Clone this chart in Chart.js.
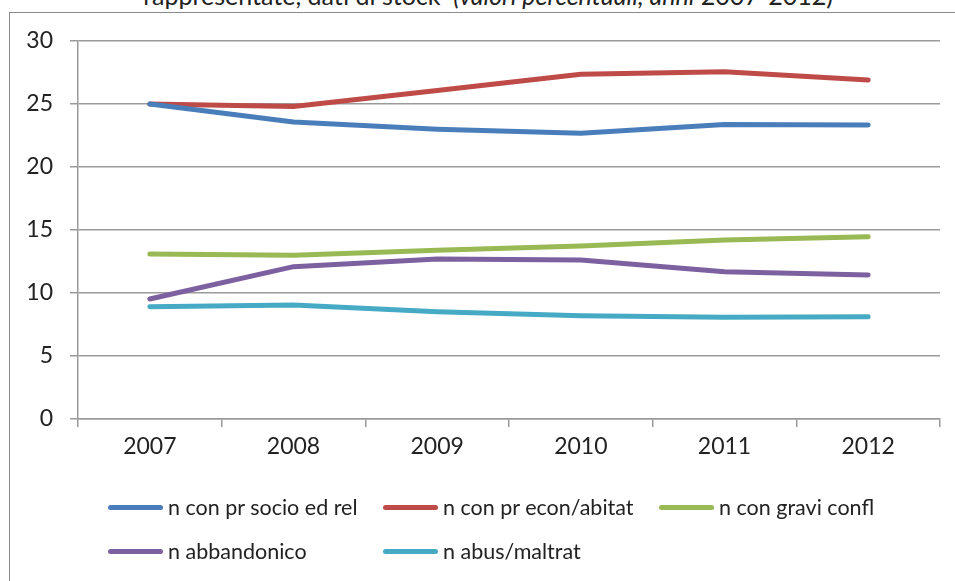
<!DOCTYPE html>
<html>
<head>
<meta charset="utf-8">
<script src="https://cdn.jsdelivr.net/npm/chart.js@4/dist/chart.umd.min.js"></script>
<style>
  html, body { margin: 0; padding: 0; background: #fff; }
  #wrap { position: relative; width: 955px; height: 581px; overflow: hidden; font-family: Lato, "Open Sans", sans-serif; color: #222; }
  #box { position: absolute; left: 9px; top: 12px; width: 960px; height: 600px; border: 1px solid #8a8a8a; box-sizing: border-box; }
  #c { position: absolute; left: 0; top: 0; }
  #title { position: absolute; left: 0; width: 976px; top: -20px; text-align: center; font-size: 25px; line-height: 30px; white-space: pre; color: #222; }
  .lg { position: absolute; font-size: 21.5px; white-space: pre; line-height: 26px; }
  .lg span.s { position: absolute; left: 0; top: 11px; width: 55px; height: 5px; border-radius: 3px; }
  .lg span.t { position: absolute; left: 60px; top: 0; }
</style>
</head>
<body>
<div id="wrap">
  <div id="box"></div>
  <div id="title">rappresentate, dati di stock  <i>(valori percentuali, anni</i> 2007-2012)</div>
  <canvas id="c" width="955" height="581"></canvas>
  <div id="legend"></div>
</div>
<script>
const categories = ["2007", "2008", "2009", "2010", "2011", "2012"];
const seriesNames = ["n con pr socio ed rel", "n con pr econ/abitat", "n con gravi confl", "n abbandonico", "n abus/maltrat"];
const socioRel = [25.0, 23.57, 23.0, 22.67, 23.38, 23.33];
const econAbitat = [25.0, 24.8, 26.08, 27.36, 27.56, 26.9];
const graviConfl = [13.1, 13.0, 13.4, 13.73, 14.2, 14.47];
const abbandonico = [9.52, 12.09, 12.7, 12.62, 11.69, 11.43];
const abusMaltrat = [8.91, 9.05, 8.52, 8.2, 8.07, 8.12];
const yTicks = [0, 5, 10, 15, 20, 25, 30];
const colors = ["#4a7ebb", "#be4b48", "#98b954", "#7d60a0", "#46aac5"];

const allSeries = [socioRel, econAbitat, graviConfl, abbandonico, abusMaltrat];

// HTML legend (real text)
const legendPos = [[108, 494], [383, 494], [659, 494], [108, 538], [383, 538]];
const lg = document.getElementById('legend');
seriesNames.forEach((n, i) => {
  const d = document.createElement('div');
  d.className = 'lg';
  d.style.left = legendPos[i][0] + 'px';
  d.style.top = legendPos[i][1] + 'px';
  d.innerHTML = '<span class="s" style="background:' + colors[i] + '"></span><span class="t"></span>';
  d.querySelector('.t').textContent = n;
  lg.appendChild(d);
});

const font = { family: "Lato, 'Open Sans', sans-serif", size: 23 };
new Chart(document.getElementById('c'), {
  type: 'line',
  data: {
    labels: categories,
    datasets: allSeries.map((s, i) => ({
      label: seriesNames[i],
      data: s,
      borderColor: colors[i],
      backgroundColor: colors[i],
      borderWidth: 5,
      borderCapStyle: 'round',
      borderJoinStyle: 'round',
      pointRadius: 0,
      tension: 0,
      fill: false
    }))
  },
  options: {
    responsive: false,
    animation: false,
    layout: { padding: { left: 0, top: 41, right: 15, bottom: 112 } },
    plugins: { legend: { display: false }, title: { display: false }, tooltip: { enabled: false } },
    scales: {
      x: {
        offset: true,
        grid: { offset: true, drawOnChartArea: false, drawTicks: true, tickLength: 8, color: '#9a9a9a', lineWidth: 1.5 },
        border: { color: '#9a9a9a', width: 1.5 },
        ticks: { font: font, color: '#222', padding: 6, maxRotation: 0 },
        afterFit: s => { s.height = 50; }
      },
      y: {
        min: 0, max: 30,
        afterBuildTicks: s => { s.ticks = yTicks.map(v => ({ value: v })); },
        grid: { drawTicks: true, tickLength: 8, color: '#9a9a9a', lineWidth: 1.5 },
        border: { color: '#9a9a9a', width: 1.5 },
        ticks: { font: font, color: '#222', padding: 17 },
        afterFit: s => { s.width = 78; }
      }
    }
  }
});
</script>
</body>
</html>
